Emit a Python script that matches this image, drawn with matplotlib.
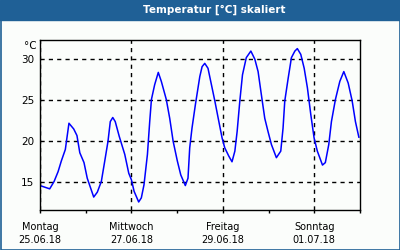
import numpy as np
import matplotlib.pyplot as plt
from matplotlib.patches import Rectangle

# hours since Monday 25.06.18 00:00
hours = [0, 5.1, 7.4, 9.5, 11.2, 13.3, 15.2, 17.7, 19.4, 20.9, 23.1, 24.8, 28.2, 30.1,
         32.2, 34.0, 35.7, 36.9, 38.2, 39.5, 41.6, 44.5, 46.6, 48.0, 49.4, 51.8, 53.2,
         54.6, 56.4, 57.6, 58.5, 60.2, 62.1, 63.7, 66.3, 68.1, 69.9, 72.1, 73.9, 76.3,
         77.7, 78.6, 79.8, 81.6, 83.9, 85.1, 86.5, 88.2, 90.0, 91.8, 93.9, 95.6, 97.0,
         99.1, 100.8, 102.3, 103.5, 104.9, 106.3, 108.3, 110.7, 112.8, 114.5, 116.2,
         118.0, 119.7, 121.5, 124.1, 126.4, 127.6, 128.5, 130.3, 132.0, 133.8, 135.1,
         136.9, 138.7, 140.4, 142.2, 143.9, 145.6, 148.3, 149.8, 151.6, 153.0, 155.1,
         157.4, 159.5, 161.8, 163.9, 165.6, 167.4]
temps = [14.6, 14.2, 15.1, 16.3, 17.6, 19.0, 22.2, 21.5, 20.7, 18.6, 17.4, 15.5, 13.2, 13.8,
         15.1, 17.6, 20.0, 22.4, 22.9, 22.4, 20.6, 18.4, 16.1, 15.3, 13.9, 12.6, 13.1,
         14.7, 18.4, 22.4, 25.1, 26.9, 28.4, 27.3, 25.1, 22.8, 20.0, 17.6, 15.9, 14.6,
         15.5, 19.2, 21.6, 24.5, 27.9, 29.1, 29.5, 28.9, 26.9, 24.9, 22.4, 20.4, 19.2,
         18.2, 17.5, 18.8, 21.2, 24.9, 28.1, 30.2, 31.0, 30.0, 28.5, 25.7,
         22.8, 21.2, 19.6, 18.0, 18.8, 21.6, 24.9, 27.7, 30.2, 31.0, 31.3,
         30.6, 28.9, 26.5, 23.2, 20.4, 18.8, 17.1, 17.4, 19.6, 22.4, 25.1,
         27.3, 28.5, 27.1, 24.9, 22.4, 20.5]

day_labels = ["Montag\n25.06.18", "Mittwoch\n27.06.18", "Freitag\n29.06.18", "Sonntag\n01.07.18"]
y_ticks = [15, 20, 25, 30]

blue = "#1f6096"

fig = plt.figure(figsize=(4, 2.5), dpi=100, facecolor="#fbfdfb")

# title bar and frame
fig.patches.append(Rectangle((0, 230 / 250), 1, 20 / 250, transform=fig.transFigure,
                             color=blue, zorder=0))
fig.patches.append(Rectangle((0.5 / 400, 0.5 / 250), 399 / 400, 249 / 250,
                             transform=fig.transFigure, fill=False, edgecolor=blue,
                             lw=1.2, zorder=0))
fig.text(0.535, 240 / 250, "Temperatur [°C] skaliert", color="white", fontsize=7.5,
         fontweight="bold", ha="center", va="center")

ax = fig.add_axes([40 / 400, 40 / 250, 320 / 400, 170 / 250])
ax.set_facecolor("#fbfdfb")

days = np.array(hours) / 24
ax.plot(days, temps, color="#0000ff", lw=1.1)

ax.set_xlim(0, 7)
ax.set_ylim(11.62, 32.35)
ax.set_xticks([0, 2, 4, 6])
ax.set_xticklabels(day_labels, fontsize=7, linespacing=1.45)
ax.set_xticks([1, 3, 5, 7], minor=True)
ax.set_yticks(y_ticks)
ax.set_yticklabels([str(v) for v in y_ticks], fontsize=7.5)

ax.tick_params(axis="x", which="both", direction="out", length=2.5, width=1, pad=6)
ax.tick_params(axis="y", length=0, pad=4)
ax.grid(True, which="major", color="black", linestyle=(0, (3, 3)), lw=1)
for s in ax.spines.values():
    s.set_linewidth(1)

fig.text(37 / 400, 1 - 46 / 250, "°C", fontsize=7.5, ha="right", va="center")

fig.savefig("out.png", dpi=100, facecolor=fig.get_facecolor())
